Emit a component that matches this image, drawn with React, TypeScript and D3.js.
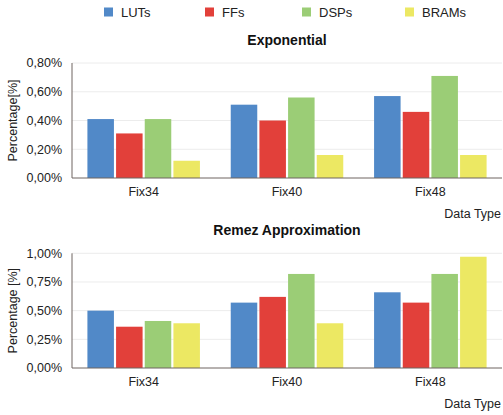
import React from "react";
import * as d3 from "d3";

const categories = ["Fix34", "Fix40", "Fix48"];
const seriesNames = ["LUTs", "FFs", "DSPs", "BRAMs"];
const seriesColors = ["#5189c8", "#e2403a", "#9bcd76", "#ece863"];

const expLUTs = [0.41, 0.51, 0.57];
const expFFs = [0.31, 0.4, 0.46];
const expDSPs = [0.41, 0.56, 0.71];
const expBRAMs = [0.12, 0.16, 0.16];
const expTicks = [0, 0.2, 0.4, 0.6, 0.8];

const remLUTs = [0.5, 0.57, 0.66];
const remFFs = [0.36, 0.62, 0.57];
const remDSPs = [0.41, 0.82, 0.82];
const remBRAMs = [0.39, 0.39, 0.97];
const remTicks = [0, 0.25, 0.5, 0.75, 1.0];

const W = 503;
const H = 415;
const FONT = "'Liberation Sans', Arial, Helvetica, sans-serif";

type PanelProps = {
  title: string;
  yTitle: string;
  series: number[][];
  ticks: number[];
  top: number;
  bottom: number;
  titleY: number;
};

function fmt(v: number) {
  return v.toFixed(2).replace(".", ",") + "%";
}

function Panel({ title, yTitle, series, ticks, top, bottom, titleY }: PanelProps) {
  const left = 72;
  const right = 502;
  const y = d3.scaleLinear().domain([0, ticks[ticks.length - 1]]).range([bottom, top]);
  const x0 = d3.scaleBand<string>().domain(categories).range([left, right]).paddingInner(0.215).paddingOuter(0.1075);
  const x1 = d3.scaleBand<string>().domain(seriesNames).range([0, x0.bandwidth()]).paddingInner(0.075);
  const cx = (left + right) / 2;
  return (
    <g>
      <text x={cx} y={titleY} textAnchor="middle" fontFamily={FONT} fontWeight="bold" fontSize={14} fill="#111">
        {title}
      </text>
      {ticks.map((t, i) => (
        <g key={i}>
          {i > 0 && <line x1={left} x2={right} y1={y(t)} y2={y(t)} stroke="#ececec" strokeWidth={1} />}
          <text x={62} y={y(t)} dy="0.35em" textAnchor="end" fontFamily={FONT} fontSize={12.5} fill="#222">
            {fmt(t)}
          </text>
        </g>
      ))}
      {categories.map((c, ci) => (
        <g key={c} transform={`translate(${x0(c)},0)`}>
          {seriesNames.map((s, si) => {
            const v = series[si][ci];
            return (
              <rect
                key={s}
                x={x1(s)}
                y={y(v)}
                width={x1.bandwidth()}
                height={bottom - y(v)}
                fill={seriesColors[si]}
              />
            );
          })}
          <text
            x={x0.bandwidth() / 2}
            y={bottom + 14}
            dy="0.35em"
            textAnchor="middle"
            fontFamily={FONT}
            fontSize={12.5}
            fill="#222"
          >
            {c}
          </text>
        </g>
      ))}
      <line x1={left} x2={left} y1={top} y2={bottom} stroke="#6e6460" strokeWidth={1} />
      <line x1={left} x2={right} y1={bottom} y2={bottom} stroke="#6e6460" strokeWidth={1} />
      <text
        transform={`translate(13,${(top + bottom) / 2}) rotate(-90)`}
        textAnchor="middle"
        dy="0.35em"
        fontFamily={FONT}
        fontSize={12.5}
        fill="#222"
      >
        {yTitle}
      </text>
      <text x={501} y={bottom + 36} dy="0.35em" textAnchor="end" fontFamily={FONT} fontSize={12.5} fill="#222">
        Data Type
      </text>
    </g>
  );
}

export default function App() {
  const legendX = [104, 205, 302, 405];
  return (
    <svg
      width={W}
      height={H}
      viewBox={`0 0 ${W} ${H}`}
      style={{ position: "absolute", left: 0, top: 0, background: "#fff" }}
    >
      <rect width={W} height={H} fill="#fff" />
      {seriesNames.map((s, i) => (
        <g key={s}>
          <rect x={legendX[i]} y={7.5} width={9} height={9} fill={seriesColors[i]} />
          <text x={legendX[i] + 17} y={12} dy="0.35em" fontFamily={FONT} fontSize={13} fill="#222">
            {s}
          </text>
        </g>
      ))}
      <Panel
        title="Exponential"
        yTitle="Percentage[%]"
        series={[expLUTs, expFFs, expDSPs, expBRAMs]}
        ticks={expTicks}
        top={63}
        bottom={178}
        titleY={45}
      />
      <Panel
        title="Remez Approximation"
        yTitle="Percentage [%]"
        series={[remLUTs, remFFs, remDSPs, remBRAMs]}
        ticks={remTicks}
        top={253.3}
        bottom={368}
        titleY={235}
      />
    </svg>
  );
}
